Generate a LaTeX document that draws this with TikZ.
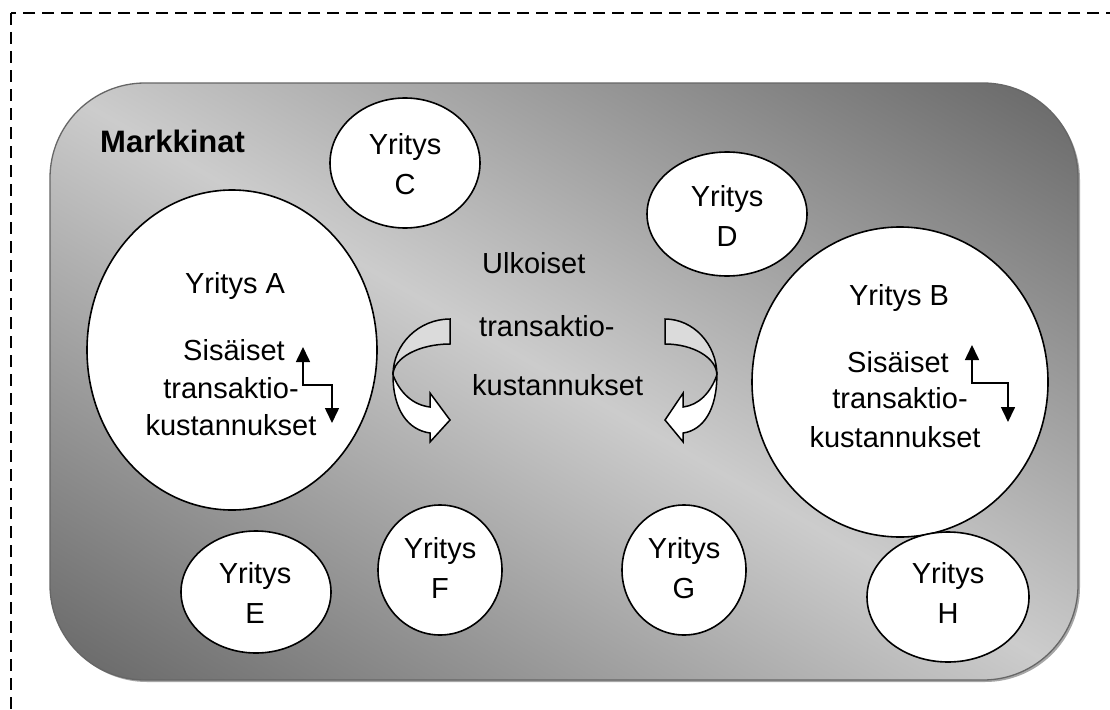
\documentclass[tikz,border=0pt]{standalone}
\usepackage{fontspec}
\setmainfont{Liberation Sans}
\usetikzlibrary{arrows.meta,shapes.geometric}
\definecolor{mdark}{gray}{0.40}
\definecolor{mlight}{gray}{0.80}
\pgfdeclarehorizontalshading{mktshade}{100bp}{color(0bp)=(mdark); color(25bp)=(mdark); color(50bp)=(mlight); color(75bp)=(mdark); color(100bp)=(mdark)}
\tikzset{
 firm/.style={ellipse, draw=black, line width=1.6pt, fill=white, inner sep=0pt},
 lbl/.style={font=\fontsize{29}{35}\selectfont, inner sep=0pt, anchor=base},
 lblw/.style={lbl, anchor=base west},
 steparrow/.style={line width=1.6pt, {Triangle[width=14pt,length=15pt]}-{Triangle[width=14pt,length=15pt]}},
 bandback/.style={draw=black, line width=1.5pt, fill=black!14},
 bandfront/.style={draw=black, line width=1.5pt, fill=white},
 mktshape/.style={rounded corners=95pt},
}
\begin{document}
\begin{tikzpicture}[x=1pt,y=-1pt]
\useasboundingbox (0,0) rectangle (1110,709);
\clip (0,0) rectangle (1110,709);
\fill[white] (0,0) rectangle (1110,709);
\draw[line width=1.5pt, dash pattern=on 12pt off 7pt] (11,13) rectangle (1130,730);
% market area
\fill[black!35, mktshape] (52,85) rectangle (1080,682);
\begin{scope}
 \clip[mktshape] (50,83) rectangle (1078,680);
 \begin{scope}[transform canvas={shift={(564,381.5)}, rotate=59.9}]
  \shade[shading=mktshade] (-516,-760) rectangle (516,760);
 \end{scope}
\end{scope}
\draw[draw=black!60, line width=1.3pt, mktshape] (50,83) rectangle (1078,680);
\node[lblw, font=\fontsize{31}{37}\selectfont\bfseries] (mk) at (100,152) {Markkinat};
% firms
\node[firm, minimum width=150pt, minimum height=130pt] (C) at (405,163) {};
\node[firm, minimum width=160pt, minimum height=124pt] (D) at (727,214) {};
\node[firm, minimum width=290pt, minimum height=320pt] (A) at (232,350) {};
\node[firm, minimum width=296pt, minimum height=310pt] (B) at (900,382) {};
\node[firm, minimum width=150pt, minimum height=122pt] (E) at (256,592) {};
\node[firm, minimum width=124pt, minimum height=130pt] (F) at (440,570) {};
\node[firm, minimum width=124pt, minimum height=130pt] (G) at (684,570) {};
\node[firm, minimum width=162pt, minimum height=130pt] (H) at (948,597) {};
% firm labels
\node[lbl] (tC1) at (405,154) {Yritys}; \node[lbl] (tC2) at (405,194) {C};
\node[lbl] (tD1) at (727,206) {Yritys}; \node[lbl] (tD2) at (727,246) {D};
\node[lbl] (tE1) at (255,583) {Yritys}; \node[lbl] (tE2) at (255,623) {E};
\node[lbl] (tF1) at (440,558) {Yritys}; \node[lbl] (tF2) at (440,598) {F};
\node[lbl] (tG1) at (684,558) {Yritys}; \node[lbl] (tG2) at (684,598) {G};
\node[lbl] (tH1) at (948,583) {Yritys}; \node[lbl] (tH2) at (948,623) {H};
% A
\node[lbl] (tA1) at (235,293) {Yritys A};
\node[lbl] (tA2) at (234,360) {Sisäiset};
\node[lbl] (tA3) at (231,398) {transaktio-};
\node[lbl] (tA4) at (231,435) {kustannukset};
% B
\node[lbl] (tB1) at (899,305) {Yritys B};
\node[lbl] (tB2) at (898,372) {Sisäiset};
\node[lbl] (tB3) at (900,408) {transaktio-};
\node[lbl] (tB4) at (895,447) {kustannukset};
% middle
\node[lblw] (u1) at (482,273) {Ulkoiset};
\node[lblw] (u2) at (479,336) {transaktio-};
\node[lblw] (u3) at (472,395) {kustannukset};
% step arrows
\coordinate (a1) at (303,347); \coordinate (a2) at (303,385);
\coordinate (a3) at (332,385); \coordinate (a4) at (332,423);
\draw[steparrow] (a1) -- (a2) -- (a3) -- (a4);
\coordinate (b1) at (972,345); \coordinate (b2) at (972,383);
\coordinate (b3) at (1008,383); \coordinate (b4) at (1008,422);
\draw[steparrow] (b1) -- (b2) -- (b3) -- (b4);
% curved arrows
\begin{scope}[shift={(450,319)}]
 \draw[bandback] (0,0) .. controls (-31,0) and (-57,25) .. (-57,56) .. controls (-57,39) and (-31,25) .. (0,25) -- cycle;
 \draw[bandfront] (-57,56) .. controls (-50,74) and (-37,86) .. (-20,88) -- (-20,74) -- (0,101) -- (-20,123) -- (-20,114) .. controls (-42,111) and (-57,91) .. (-57,56) -- cycle;
\end{scope}
\begin{scope}[shift={(665,319)}, xscale=-0.91]
 \draw[bandback] (0,0) .. controls (-31,0) and (-57,25) .. (-57,56) .. controls (-57,39) and (-31,25) .. (0,25) -- cycle;
 \draw[bandfront] (-57,56) .. controls (-50,74) and (-37,86) .. (-20,88) -- (-20,74) -- (0,101) -- (-20,123) -- (-20,114) .. controls (-42,111) and (-57,91) .. (-57,56) -- cycle;
\end{scope}
\end{tikzpicture}
\end{document}
